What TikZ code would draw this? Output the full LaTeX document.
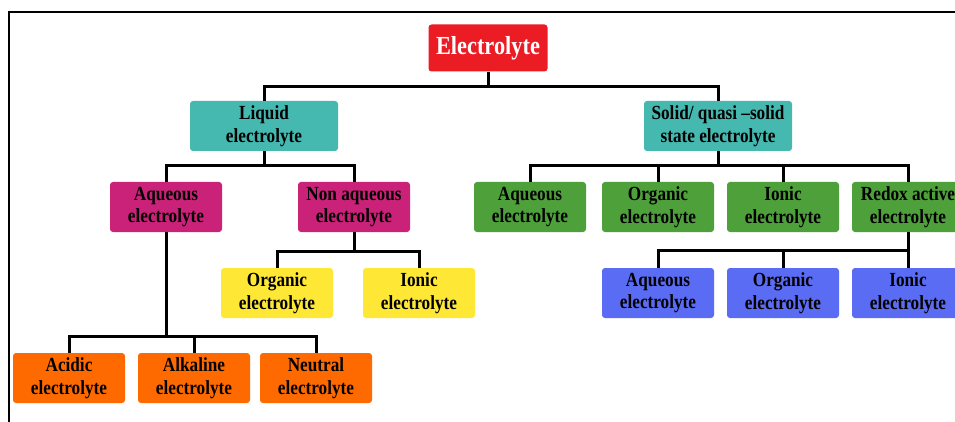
\documentclass[tikz,border=0pt]{standalone}
\usepackage{fontspec}
\setmainfont[FakeStretch=0.86]{Liberation Serif}
\definecolor{cred}{HTML}{EC1C24}
\definecolor{cteal}{HTML}{45B8B0}
\definecolor{cmag}{HTML}{C92278}
\definecolor{cgreen}{HTML}{4EA03A}
\definecolor{cyel}{HTML}{FFE835}
\definecolor{corange}{HTML}{FF6A00}
\definecolor{cblue}{HTML}{5B6CF4}
\tikzset{
  box/.style={rounded corners=3pt, minimum width=112pt, minimum height=50pt,
    inner sep=0pt, align=center, font=\fontsize{20}{22.5}\selectfont\bfseries, text=black},
  link/.style={line width=3pt, black},
  frame/.style={line width=2pt, black}
}
\begin{document}
\begin{tikzpicture}[x=1pt,y=-1pt]
\useasboundingbox (0,0) rectangle (955,422);
\fill[white] (0,0) rectangle (955,422);
\draw[frame] (955,12) -- (9,12) -- (9,422);

\node[box, fill=cred, text=white, minimum width=119pt, minimum height=47pt, font=\fontsize{26}{28}\selectfont\bfseries] (root) at (488,48) {Electrolyte};

\node[box, fill=cteal, minimum width=148pt] (liq) at (264,126) {Liquid\\electrolyte};
\node[box, fill=cteal, minimum width=148pt] (sol) at (718,126) {Solid/ quasi –solid\\ state electrolyte};

\node[box, fill=cmag] (aq) at (166,207) {Aqueous\\electrolyte};
\node[box, fill=cmag] (naq) at (354,207) {Non aqueous\\electrolyte};

\node[box, fill=cgreen] (gaq) at (530,207) {Aqueous\\electrolyte};
\node[box, fill=cgreen] (gor) at (658,207) {Organic\\electrolyte};
\node[box, fill=cgreen] (gio) at (783,207) {Ionic\\electrolyte};
\node[box, fill=cgreen] (grx) at (908,207) {Redox active\\electrolyte};

\node[box, fill=cyel] (yor) at (277,293) {Organic\\electrolyte};
\node[box, fill=cyel] (yio) at (419,293) {Ionic\\electrolyte};

\node[box, fill=cblue] (baq) at (658,293) {Aqueous\\electrolyte};
\node[box, fill=cblue] (bor) at (783,293) {Organic\\electrolyte};
\node[box, fill=cblue] (bio) at (908,293) {Ionic\\electrolyte};

\node[box, fill=corange] (oac) at (69,378) {Acidic\\electrolyte};
\node[box, fill=corange] (oal) at (194,378) {Alkaline\\electrolyte};
\node[box, fill=corange] (one) at (316,378) {Neutral\\electrolyte};

% connectors
\foreach \c in {liq,sol}
  \draw[link] (root.south) -- (root.south |- 0,87) -| (\c.north);
\foreach \c in {aq,naq}
  \draw[link] (liq.south) -- (liq.south |- 0,166) -| (\c.north);
\foreach \c in {gaq,gor,gio,grx}
  \draw[link] (sol.south) -- (sol.south |- 0,166) -| (\c.north);
\foreach \c in {yor,yio}
  \draw[link] (naq.south) -- (naq.south |- 0,251) -| (\c.north);
\foreach \c in {baq,bor,bio}
  \draw[link] (grx.south) -- (grx.south |- 0,250) -| (\c.north);
\foreach \c in {oac,oal,one}
  \draw[link] (aq.south) -- (aq.south |- 0,336) -| (\c.north);
\end{tikzpicture}
\end{document}
